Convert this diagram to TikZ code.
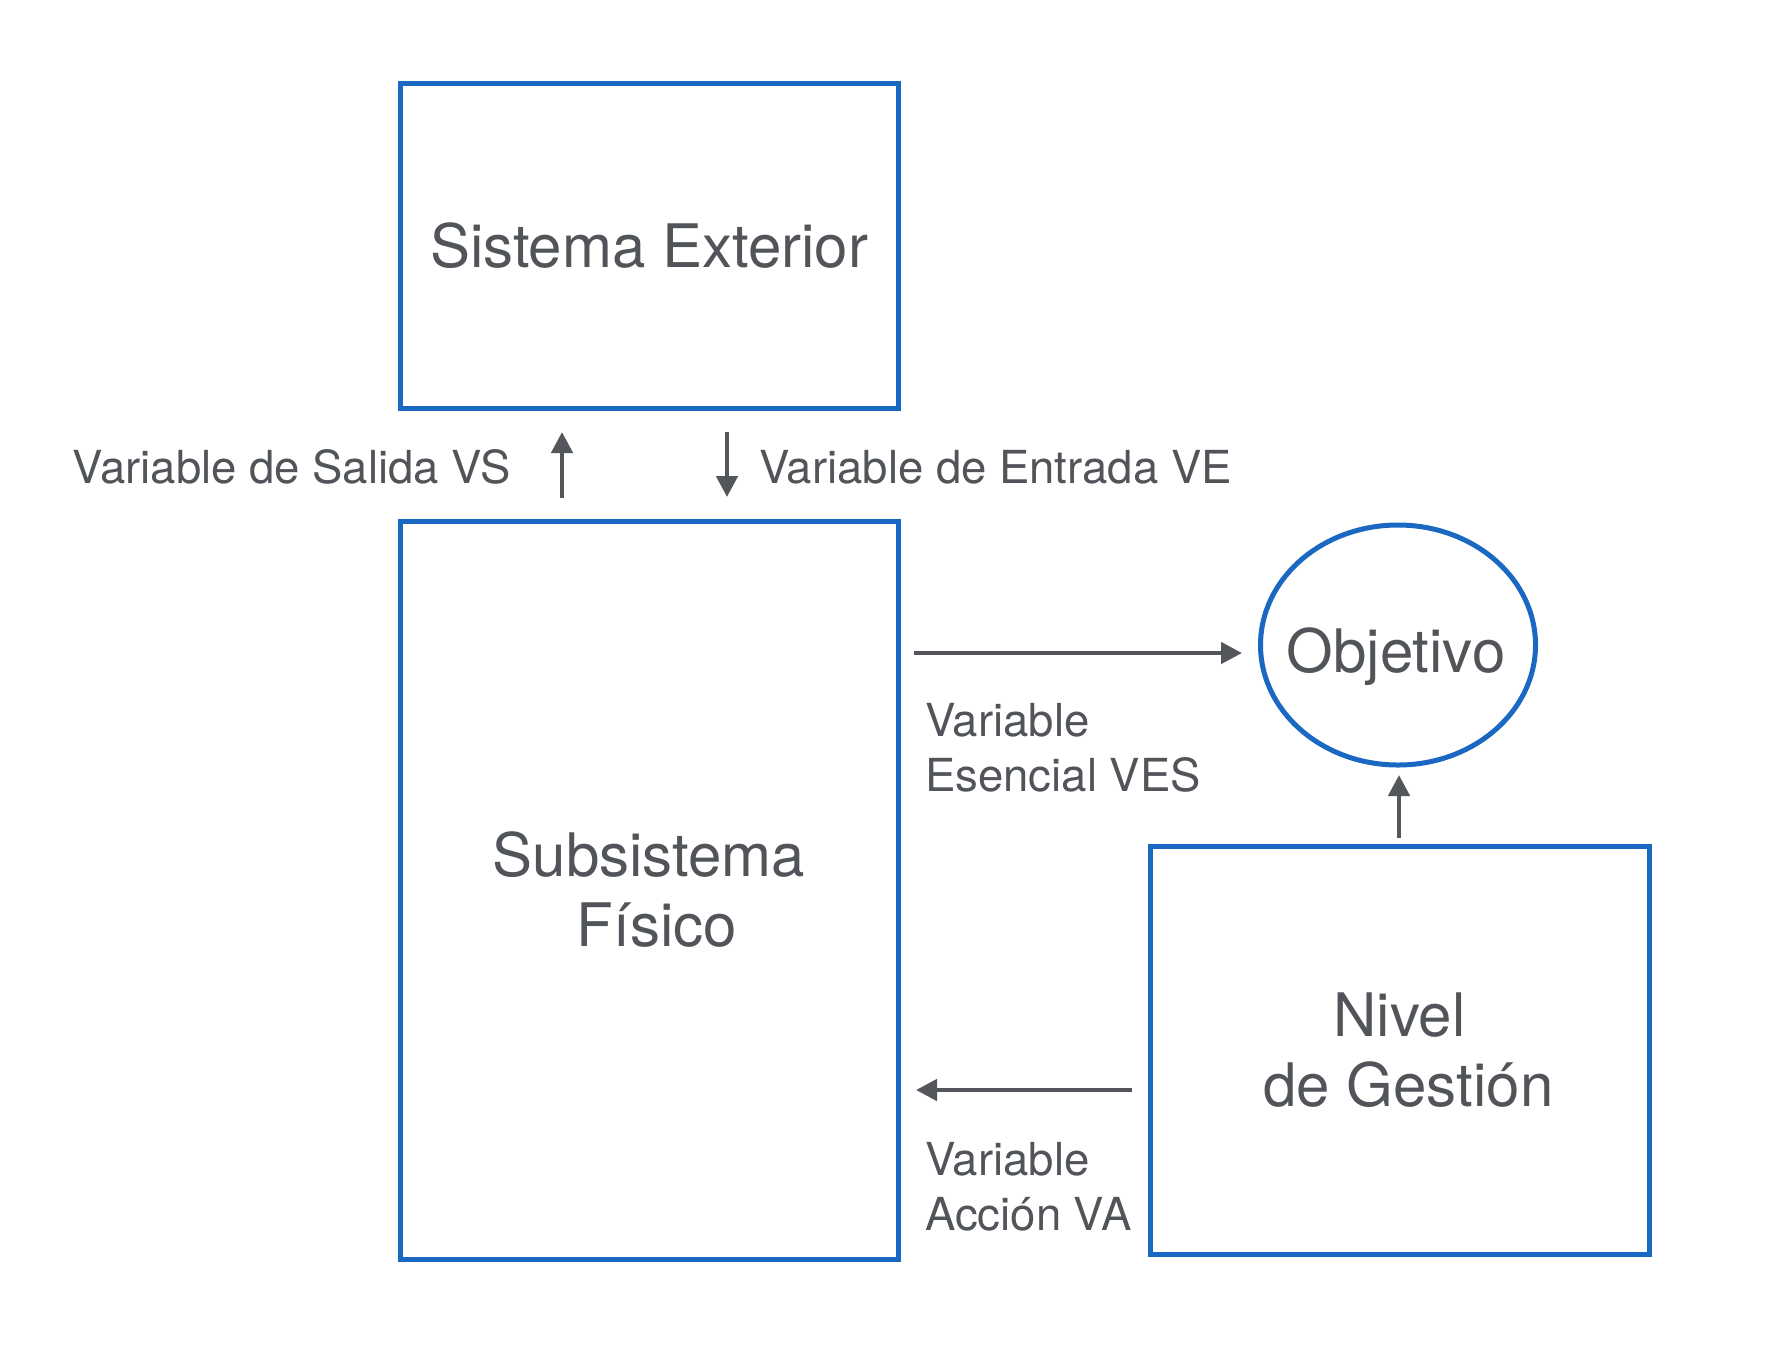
\documentclass[tikz,border=0pt]{standalone}
\usepackage{fontspec}
\setmainfont{TeX Gyre Heros}
\usetikzlibrary{arrows.meta,shapes.geometric}
\definecolor{boxblue}{HTML}{1A68C2}
\definecolor{txtgray}{HTML}{51555A}
\definecolor{arrgray}{HTML}{53575C}
\tikzset{
  blockbox/.style={draw=boxblue, line width=5pt, rectangle, inner sep=0pt, text=txtgray, align=center, font=\fontsize{60}{70}\selectfont},
  goal/.style={draw=boxblue, line width=5pt, ellipse, inner sep=0pt},
  bigtxt/.style={text=txtgray, inner sep=0pt, font=\fontsize{60}{70}\selectfont},
  lbl/.style={text=txtgray, inner sep=0pt, font=\fontsize{45.5}{55}\selectfont, align=left},
  flow/.style={draw=arrgray, line width=4.6pt, -{Triangle[length=21pt,width=21pt]}}
}
\begin{document}
\begin{tikzpicture}[x=1pt,y=-1pt]
\path[use as bounding box, fill=white] (0,0) rectangle (1768,1361);
\node[blockbox, minimum width=498pt, minimum height=325pt] (ext) at (649,245.5) {Sistema Exterior};
\node[blockbox, minimum width=498pt, minimum height=738pt] (sub) at (649,890) {Subsistema\\\hspace*{16pt}Físico};
\node[blockbox, minimum width=499pt, minimum height=408pt] (niv) at (1399.5,1050) {Nivel\\\hspace*{18pt}de Gestión};
\node[goal, minimum width=275pt, minimum height=240pt] (obj) at (1398,645) {};
\node[bigtxt, anchor=base] (objt) at (1396,672) {Objetivo};

\node[lbl, anchor=base east] (lvs) at (511,483) {Variable de Salida VS};
\node[lbl, anchor=base west] (lve) at (759,483) {Variable de Entrada VE};
\node[lbl, anchor=base west] (lves) at (925,791) {Variable\\Esencial VES};
\node[lbl, anchor=base west] (lva) at (925,1230) {Variable\\Acción VA};

\coordinate (vsA) at (562,498);
\coordinate (vsB) at (562,432);
\coordinate (veA) at (727,432);
\coordinate (veB) at (727,497);
\coordinate (vesA) at (914,653);
\coordinate (vesB) at (1242,653);
\coordinate (vaA) at (1132,1090);
\coordinate (vaB) at (916,1090);
\coordinate (ngA) at (1399,838);
\coordinate (ngB) at (1399,775);

\draw[flow] (vsA) -- (vsB);
\draw[flow] (veA) -- (veB);
\draw[flow] (vesA) -- (vesB);
\draw[flow] (vaA) -- (vaB);
\draw[flow] (ngA) -- (ngB);
\end{tikzpicture}
\end{document}
